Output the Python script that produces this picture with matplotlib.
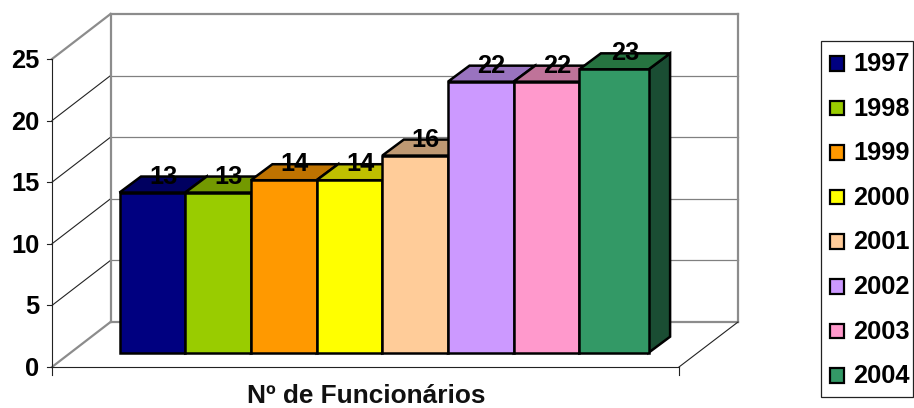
import matplotlib
matplotlib.use('Agg')
import matplotlib.pyplot as plt
from matplotlib.patches import Polygon, Rectangle

plt.rcParams['font.family'] = ['Liberation Sans', 'DejaVu Sans']

# Data
years = ['1997', '1998', '1999', '2000', '2001', '2002', '2003', '2004']
funcionarios = [13, 13, 14, 14, 16, 22, 22, 23]
y_ticks = [0, 5, 10, 15, 20, 25]
x_label = 'Nº de Funcionários'

front_colors = ['#000080', '#99CC00', '#FF9900', '#FFFF00', '#FFCC99', '#CC99FF', '#FF99CC', '#339966']
top_colors = ['#000060', '#739900', '#BF7300', '#BFBF00', '#BF9973', '#9973BF', '#BF7399', '#267340']
side_color = '#1A4D33'

# Chart geometry in pixels (fake 3D, the old Excel look)
front_x0, front_x1, front_y0 = 52, 679, 367
back_x0, back_x1, back_y0 = 110.5, 738, 322
unit = 12.32
bar_x0, bar_w, bar_y0 = 119.5, 65.7, 352.7
last_extra = 3.5  # last bar comes out a bit wider in the original
depth_x, depth_y = 21.5, 16
fs = 18.3

fig = plt.figure(figsize=(9.14, 4.08), dpi=100)
ax = fig.add_axes([0, 0, 1, 1])
ax.set_xlim(0, 914)
ax.set_ylim(408, 0)
ax.axis('off')

wall = dict(color='#8C8C8C', lw=1.6, solid_capstyle='projecting', zorder=2)
grid = dict(color='#808080', lw=0.9, zorder=1)
thin = dict(color='#222222', lw=0.8, zorder=2)

# back wall and gridlines
for t in y_ticks:
    fy = front_y0 - t * unit
    by = back_y0 - t * unit
    ax.plot([back_x0, back_x1], [by, by], **(wall if t in (0, 25) else grid))
    ax.plot([front_x0, back_x0], [fy, by], **(wall if t in (0, 25) else thin))
    ax.plot([front_x0 - 5, front_x0], [fy, fy], **thin)
    ax.text(39.5, fy - 0.5, str(t), ha='right', va='center_baseline', fontsize=fs, fontweight='bold', color='black')
ax.plot([back_x0, back_x0], [back_y0, back_y0 - 25 * unit], **wall)
ax.plot([back_x1, back_x1], [back_y0, back_y0 - 25 * unit], **wall)

# front axis lines
ax.plot([front_x0, front_x0], [front_y0 + 8, front_y0 - 25 * unit], **thin)
ax.plot([front_x0, front_x1], [front_y0, front_y0], **thin)
ax.plot([front_x1, front_x1], [front_y0, front_y0 + 8], **thin)
ax.plot([front_x1, back_x1], [front_y0, back_y0], **thin)

# bars, left to right so the next one covers the hidden faces
for i, v in enumerate(funcionarios):
    left = bar_x0 + i * bar_w
    right = left + bar_w
    if i == len(funcionarios) - 1:
        right += last_extra
    top = bar_y0 - v * unit
    edge = dict(edgecolor='black', linewidth=1.8, joinstyle='miter', zorder=3 + i)
    ax.add_patch(Polygon([(right, bar_y0), (right + depth_x, bar_y0 - depth_y),
                          (right + depth_x, top - depth_y), (right, top)],
                         facecolor=side_color, **edge))
    ax.add_patch(Polygon([(left, top), (left + depth_x, top - depth_y),
                          (right + depth_x, top - depth_y), (right, top)],
                         facecolor=top_colors[i], **edge))
    ax.add_patch(Rectangle((left, top), right - left, v * unit, facecolor=front_colors[i], **edge))
    ax.text((left + right + depth_x) / 2, top - depth_y - 2.5, str(v), ha='center', va='center_baseline',
            fontsize=fs, fontweight='bold', color='black', zorder=20)

ax.text(366, 396, x_label, ha='center', va='center', fontsize=fs + 0.6, fontweight='bold', color='#111111')

# legend box
ax.add_patch(Rectangle((820.5, 40.5), 92, 356, facecolor='white', edgecolor='#222222', linewidth=0.9, zorder=2))
for i, year in enumerate(years):
    y = 63.5 + i * 44.6
    ax.add_patch(Rectangle((829.5, y - 7.5), 14.5, 14.5, facecolor=front_colors[i], edgecolor='black', linewidth=1.6, zorder=3))
    ax.text(853, y - 2, year, ha='left', va='center_baseline', fontsize=fs, fontweight='bold', color='black', zorder=3)

fig.savefig('out.png', dpi=100)
